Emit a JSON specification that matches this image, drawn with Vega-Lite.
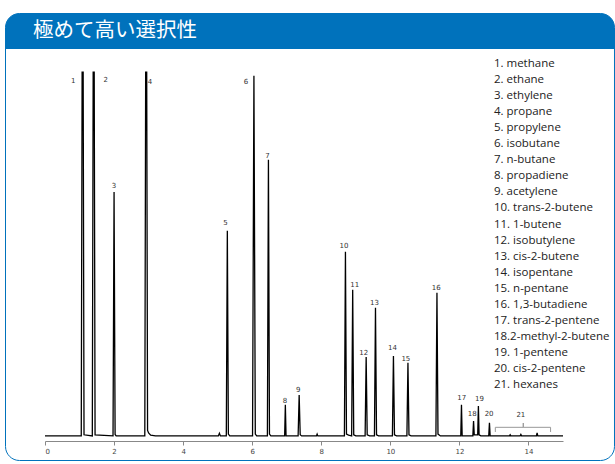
{
  "$schema": "https://vega.github.io/schema/vega-lite/v6.json",
  "width": 610,
  "height": 428,
  "autosize": {"type": "pad"},
  "padding": {"left": 5, "top": 13, "right": 0, "bottom": 0},
  "background": "white",
  "config": {"view": {"stroke": null}},
  "datasets": {
    "trace": [
      {"t": 0, "v": 0}, {"t": 1.05, "v": 0}, {"t": 1.075, "v": 99.6}, {"t": 1.105, "v": 99.6}, {"t": 1.13, "v": 0.3},
      {"t": 1.37, "v": 0}, {"t": 1.395, "v": 99.6}, {"t": 1.425, "v": 99.6}, {"t": 1.45, "v": 0.3},
      {"t": 1.97, "v": 0}, {"t": 2.0, "v": 66.8}, {"t": 2.03, "v": 0.4}, {"t": 2.06, "v": 0},
      {"t": 2.89, "v": 0}, {"t": 2.915, "v": 99.6}, {"t": 2.945, "v": 99.6}, {"t": 2.97, "v": 1.5}, {"t": 3.0, "v": 0.8}, {"t": 3.06, "v": 0.2}, {"t": 3.2, "v": 0},
      {"t": 5.02, "v": 0}, {"t": 5.05, "v": 0.7}, {"t": 5.08, "v": 0},
      {"t": 5.25, "v": 0}, {"t": 5.28, "v": 56.2}, {"t": 5.31, "v": 0.5}, {"t": 5.35, "v": 0},
      {"t": 6.01, "v": 0}, {"t": 6.05, "v": 98.6}, {"t": 6.09, "v": 0.5}, {"t": 6.13, "v": 0},
      {"t": 6.44, "v": 0}, {"t": 6.47, "v": 75.6}, {"t": 6.5, "v": 0.5}, {"t": 6.54, "v": 0},
      {"t": 6.94, "v": 0}, {"t": 6.96, "v": 8.5}, {"t": 6.98, "v": 0},
      {"t": 7.33, "v": 0}, {"t": 7.36, "v": 11.2}, {"t": 7.39, "v": 0.3}, {"t": 7.43, "v": 0},
      {"t": 7.86, "v": 0}, {"t": 7.88, "v": 0.5}, {"t": 7.9, "v": 0},
      {"t": 8.67, "v": 0}, {"t": 8.7, "v": 50.4}, {"t": 8.73, "v": 0.5}, {"t": 8.79, "v": 0.2},
      {"t": 8.88, "v": 0}, {"t": 8.91, "v": 40.0}, {"t": 8.94, "v": 0.3}, {"t": 9.0, "v": 0},
      {"t": 9.27, "v": 0}, {"t": 9.3, "v": 21.6}, {"t": 9.33, "v": 0.3}, {"t": 9.4, "v": 0},
      {"t": 9.54, "v": 0}, {"t": 9.57, "v": 35.1}, {"t": 9.6, "v": 0.3}, {"t": 9.66, "v": 0},
      {"t": 10.06, "v": 0}, {"t": 10.09, "v": 21.9}, {"t": 10.12, "v": 0.3}, {"t": 10.18, "v": 0},
      {"t": 10.48, "v": 0}, {"t": 10.51, "v": 20.0}, {"t": 10.54, "v": 0.3}, {"t": 10.6, "v": 0},
      {"t": 11.32, "v": 0}, {"t": 11.35, "v": 39.2}, {"t": 11.38, "v": 0.5}, {"t": 11.45, "v": 0},
      {"t": 12.04, "v": 0}, {"t": 12.06, "v": 8.5}, {"t": 12.08, "v": 0},
      {"t": 12.39, "v": 0}, {"t": 12.41, "v": 4.1}, {"t": 12.43, "v": 0.3}, {"t": 12.53, "v": 0.3},
      {"t": 12.55, "v": 8.2}, {"t": 12.57, "v": 0.3}, {"t": 12.62, "v": 0},
      {"t": 12.85, "v": 0}, {"t": 12.87, "v": 3.6}, {"t": 12.89, "v": 0},
      {"t": 13.45, "v": 0}, {"t": 13.47, "v": 0.3}, {"t": 13.49, "v": 0},
      {"t": 13.76, "v": 0}, {"t": 13.78, "v": 0.4}, {"t": 13.8, "v": 0},
      {"t": 14.23, "v": 0}, {"t": 14.25, "v": 0.8}, {"t": 14.27, "v": 0},
      {"t": 15.0, "v": 0}
    ],
    "peaklabels": [
      {"id": "1", "lx": 0.82, "ly": 97.2}, {"id": "2", "lx": 1.758, "ly": 97.5}, {"id": "3", "lx": 2.0, "ly": 68.4},
      {"id": "4", "lx": 3.04, "ly": 96.9}, {"id": "5", "lx": 5.23, "ly": 58.4}, {"id": "6", "lx": 5.82, "ly": 97.0},
      {"id": "7", "lx": 6.44, "ly": 76.7}, {"id": "8", "lx": 6.95, "ly": 9.6}, {"id": "9", "lx": 7.33, "ly": 12.6},
      {"id": "10", "lx": 8.66, "ly": 52.0}, {"id": "11", "lx": 8.97, "ly": 41.2}, {"id": "12", "lx": 9.23, "ly": 22.6},
      {"id": "13", "lx": 9.54, "ly": 36.5}, {"id": "14", "lx": 10.06, "ly": 24.0}, {"id": "15", "lx": 10.45, "ly": 21.1},
      {"id": "16", "lx": 11.33, "ly": 40.6}, {"id": "17", "lx": 12.07, "ly": 10.5}, {"id": "18", "lx": 12.37, "ly": 6.0},
      {"id": "19", "lx": 12.58, "ly": 10.0}, {"id": "20", "lx": 12.86, "ly": 5.9}, {"id": "21", "lx": 13.78, "ly": 5.7}
    ],
    "bracket": [
      {"i": 1, "bx": 13.04, "by": 1.07}, {"i": 2, "bx": 13.04, "by": 2.35}, {"i": 3, "bx": 13.85, "by": 2.35},
      {"i": 4, "bx": 13.85, "by": 3.53}, {"i": 5, "bx": 13.85, "by": 2.35}, {"i": 6, "bx": 14.64, "by": 2.35},
      {"i": 7, "bx": 14.64, "by": 1.07}
    ],
    "legend": [
      {"n": 1, "name": "1. methane"}, {"n": 2, "name": "2. ethane"}, {"n": 3, "name": "3. ethylene"},
      {"n": 4, "name": "4. propane"}, {"n": 5, "name": "5. propylene"}, {"n": 6, "name": "6. isobutane"},
      {"n": 7, "name": "7. n-butane"}, {"n": 8, "name": "8. propadiene"}, {"n": 9, "name": "9. acetylene"},
      {"n": 10, "name": "10. trans-2-butene"}, {"n": 11, "name": "11. 1-butene"}, {"n": 12, "name": "12. isobutylene"},
      {"n": 13, "name": "13. cis-2-butene"}, {"n": 14, "name": "14. isopentane"}, {"n": 15, "name": "15. n-pentane"},
      {"n": 16, "name": "16. 1,3-butadiene"}, {"n": 17, "name": "17. trans-2-pentene"}, {"n": 18, "name": "18.2-methyl-2-butene"},
      {"n": 19, "name": "19. 1-pentene"}, {"n": 20, "name": "20. cis-2-pentene"}, {"n": 21, "name": "21. hexanes"}
    ],
    "header": [{"title": "極めて高い選択性"}]
  },
  "layer": [
    {
      "layer": [
        {
          "data": {"name": "header"},
          "mark": {"type": "rect", "fill": "white", "stroke": "#0072BC", "strokeWidth": 1, "cornerRadius": 14},
          "encoding": {
            "x": {"datum": -1.1438, "type": "quantitative"},
            "x2": {"datum": 16.491},
            "y": {"datum": 115.66, "type": "quantitative", "axis": null},
            "y2": {"datum": -6.74}
          }
        },
        {
          "data": {"name": "header"},
          "mark": {"type": "rect", "color": "#0072BC", "cornerRadiusTopLeft": 14, "cornerRadiusTopRight": 14},
          "encoding": {
            "x": {"datum": -1.1438, "type": "quantitative"},
            "x2": {"datum": 16.491},
            "y": {"datum": 115.66, "type": "quantitative", "axis": null},
            "y2": {"datum": 105.94}
          }
        },
        {
          "data": {"name": "header"},
          "mark": {"type": "text", "align": "left", "baseline": "middle", "font": "Noto Sans CJK JP", "fontSize": 20.5, "color": "white"},
          "encoding": {
            "x": {"datum": -0.347, "type": "quantitative"},
            "y": {"datum": 110.8, "type": "quantitative", "axis": null},
            "text": {"field": "title"}
          }
        },
        {
          "data": {"name": "trace"},
          "mark": {"type": "line", "color": "#000000", "strokeWidth": 1.3, "strokeJoin": "miter"},
          "encoding": {
            "x": {
              "field": "t", "type": "quantitative",
              "scale": {"domain": [0, 15], "range": [40, 558], "nice": false, "zero": false},
              "axis": {"values": [0, 2, 4, 6, 8, 10, 12, 14], "format": "d", "title": null, "grid": false, "zindex": 1,
                       "domainColor": "#888888", "tickColor": "#888888", "tickSize": 4, "labelFontSize": 7,
                       "labelColor": "#444444", "labelFont": "DejaVu Sans", "labelPadding": 2}
            },
            "y": {
              "field": "v", "type": "quantitative",
              "scale": {"domain": [0, 100], "range": [422.9, 57.7], "nice": false, "zero": false},
              "axis": null
            },
            "order": {"field": "t"}
          }
        },
        {
          "data": {"name": "bracket"},
          "mark": {"type": "line", "color": "#999999", "strokeWidth": 1},
          "encoding": {
            "x": {"field": "bx", "type": "quantitative"},
            "y": {"field": "by", "type": "quantitative", "axis": null},
            "order": {"field": "i"}
          }
        },
        {
          "data": {"name": "peaklabels"},
          "mark": {"type": "text", "align": "center", "baseline": "middle", "font": "DejaVu Sans", "fontSize": 7, "color": "#333333"},
          "encoding": {
            "x": {"field": "lx", "type": "quantitative"},
            "y": {"field": "ly", "type": "quantitative", "axis": null},
            "text": {"field": "id"}
          }
        }
      ]
    },
    {
      "data": {"name": "legend"},
      "mark": {"type": "text", "align": "left", "baseline": "middle", "font": "Open Sans", "fontSize": 11.5, "color": "#222222"},
      "encoding": {
        "x": {"datum": 13.0, "type": "quantitative"},
        "y": {"field": "n", "type": "quantitative", "scale": {"domain": [1, 21], "range": [51, 372], "nice": false, "zero": false}, "axis": null},
        "text": {"field": "name"}
      }
    }
  ],
  "resolve": {"scale": {"y": "independent"}}
}
